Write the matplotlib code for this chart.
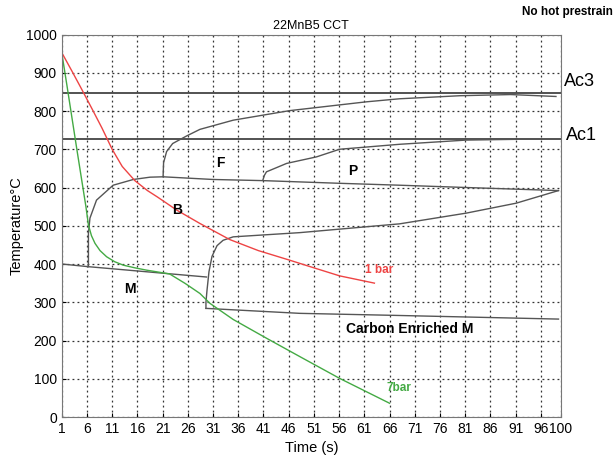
import matplotlib
matplotlib.use("Agg")
import matplotlib.pyplot as plt

plt.rcParams['font.family'] = ['Liberation Sans', 'DejaVu Sans']

# cooling curves
bar1_t = [1, 3, 5, 7, 9, 11, 13, 15.5, 18, 20, 23.8, 28.4, 34.3, 40, 46.2, 51, 56.1, 63]
bar1_T = [953, 905, 856, 806, 755, 700, 655, 618, 592, 575, 541, 506, 464, 435, 410, 390, 369, 350]
bar7_t = [1, 2, 3, 4, 4.6, 5.2, 5.8, 6.3, 6.9, 7.6, 8.6, 9.9, 11.5, 13.2, 15.5, 17.8, 22.4, 25.5, 28.4, 30.4, 35, 41.6, 48.2, 56.1, 66]
bar7_T = [953, 870, 785, 700, 650, 600, 550, 502, 474, 454, 435, 419, 406, 397, 390, 384, 374, 349, 323, 297, 255, 206, 158, 101, 36]

# transformation lines
ac3 = 848
ac1 = 726
fs_t = [21.1, 21.2, 21.8, 23, 25.8, 28.4, 35, 46.2, 61.4, 68, 80, 90, 99]
fs_T = [628, 665, 694, 715, 735, 752, 776, 801, 824, 832, 840, 843, 838]
ps_t = [40.9, 41.2, 41.6, 45.6, 51.5, 56.1, 68, 81.2, 96.4]
ps_T = [620, 632, 641, 663, 680, 700, 713, 724, 727]
bs_t = [6.3, 6.3, 6.6, 7.9, 11.2, 15.2, 18.5, 21.1, 31, 40.9, 56.1, 68, 81.2, 99.5]
bs_T = [393, 480, 520, 567, 606, 621, 627, 628, 621, 618, 611, 606, 600, 592]
bf_t = [29.6, 29.6, 29.8, 30.2, 30.8, 31.8, 33, 35, 48.2, 68, 81.2, 91.1, 99.5]
bf_T = [284, 300, 330, 380, 420, 448, 462, 471, 482, 505, 533, 559, 592]
ms_t = [1, 6.3, 29.7]
ms_T = [400, 393, 366]
cem_t = [29.6, 48.2, 66, 99.5]
cem_T = [284, 271, 266, 256]

xticks = [1, 6, 11, 16, 21, 26, 31, 36, 41, 46, 51, 56, 61, 66, 71, 76, 81, 86, 91, 96, 100]
yticks = list(range(0, 1001, 100))

fig = plt.figure(figsize=(6.14, 4.62), dpi=100)
ax = fig.add_axes([0.1005, 0.0974, 0.8132, 0.8279])

line_c = '#555555'
ax.axhline(ac3, color='#444444', lw=1.3)
ax.axhline(ac1, color='#444444', lw=1.3)
for t, T in [(fs_t, fs_T), (ps_t, ps_T), (bs_t, bs_T), (bf_t, bf_T), (ms_t, ms_T), (cem_t, cem_T)]:
    ax.plot(t, T, color=line_c, lw=1.0)
ax.plot(bar1_t, bar1_T, color='#ee4444', lw=1.0)
ax.plot(bar7_t, bar7_T, color='#44aa44', lw=1.0)

ax.set_xlim(1, 100)
ax.set_ylim(0, 1000)
ax.set_xticks(xticks)
ax.set_yticks(yticks)
ax.tick_params(direction='in', labelsize=10, length=3)
ax.grid(True, linestyle=(0, (1.5, 2.5)), color='#333333', lw=0.9)
for s in ax.spines.values():
    s.set_color('#777777')

ax.set_title('22MnB5 CCT', fontsize=9, pad=4)
ax.set_xlabel('Time (s)', fontsize=10.5, labelpad=4)
ax.set_ylabel('Temperature°C', fontsize=10.5, labelpad=2)

ax.text(100.6, 878, 'Ac3', fontsize=13, va='center', clip_on=False)
ax.text(101, 735, 'Ac1', fontsize=13, va='center', clip_on=False)
fig.text(0.998, 0.973, 'No hot prestrain', fontsize=8.5, fontweight='bold', va='center', ha='right')

lab = dict(fontsize=10, fontweight='bold', ha='center', va='center')
ax.text(32.4, 663, 'F', **lab)
ax.text(58.7, 644, 'P', **lab)
ax.text(23.8, 541, 'B', **lab)
ax.text(14.5, 334, 'M', **lab)
ax.text(70, 230, 'Carbon Enriched M', **lab)
ax.text(61.2, 384, '1 bar', color='#ee4444', fontsize=8.5, fontweight='bold', va='center')
ax.text(65.3, 76, '7bar', color='#44aa44', fontsize=8.5, fontweight='bold', va='center')

fig.savefig('out.png', dpi=100)
